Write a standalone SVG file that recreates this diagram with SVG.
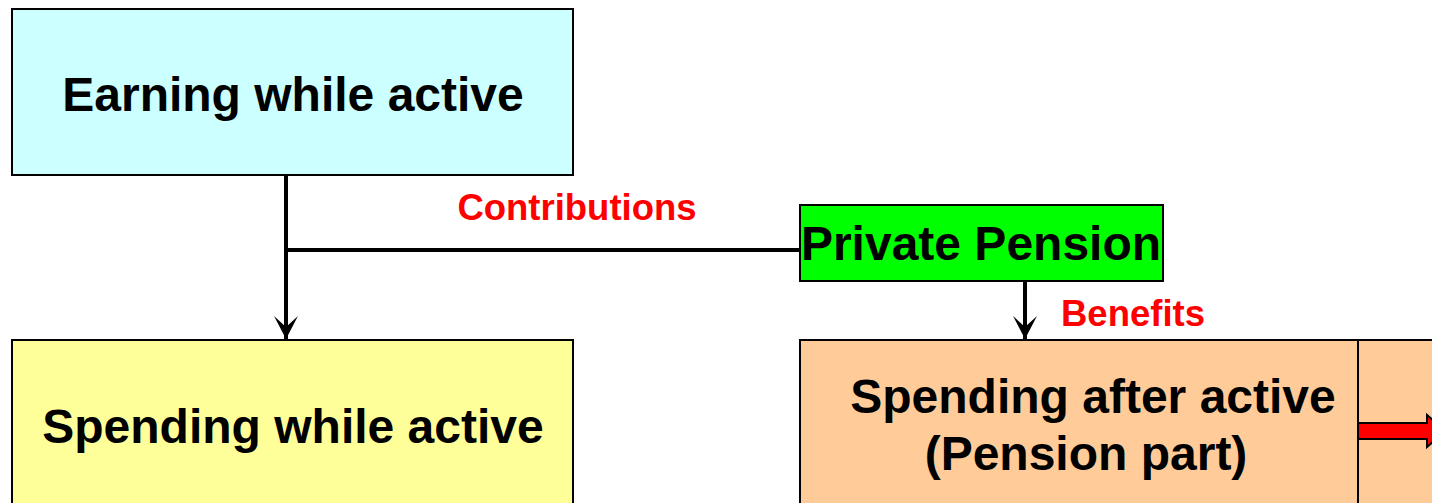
<svg xmlns="http://www.w3.org/2000/svg" width="1432" height="503" viewBox="0 0 1432 503">
  <style>
    .box { stroke: #000; stroke-width: 2; }
    .big { font-family: "Liberation Sans", Arial, sans-serif; font-weight: bold; font-size: 48px; fill: #000; }
    .lbl { font-family: "Liberation Sans", Arial, sans-serif; font-weight: bold; font-size: 36.5px; fill: #FF0000; }
    .wire { fill: none; stroke: #000; stroke-width: 4; }
  </style>
  <defs>
    <!-- barbed arrowhead, drawn pointing along +x -->
    <marker id="head" viewBox="0 0 26 26" refX="24" refY="13" markerWidth="26" markerHeight="26" markerUnits="userSpaceOnUse" orient="auto">
      <path d="M24,13 L1,1 L12,13 L1,25 Z" fill="#000"/>
    </marker>
  </defs>

  <g id="earning">
    <rect class="box" x="12" y="9" width="561" height="166" fill="#CCFFFF"/>
    <text class="big" x="293" y="111" text-anchor="middle">Earning while active</text>
  </g>

  <g id="private-pension">
    <rect class="box" x="800" y="205" width="363" height="76" fill="#00FF00"/>
    <text class="big" x="981" y="260" text-anchor="middle">Private Pension</text>
  </g>

  <g id="spending-active">
    <rect class="box" x="12" y="340" width="561" height="175" fill="#FFFF99"/>
    <text class="big" x="293" y="443" text-anchor="middle">Spending while active</text>
  </g>

  <g id="spending-after">
    <rect class="box" x="800" y="340" width="650" height="175" fill="#FFCC99"/>
    <line x1="1358" y1="340" x2="1358" y2="503" stroke="#000" stroke-width="2"/>
    <text class="big" x="1093" y="413" text-anchor="middle">Spending after active</text>
    <text class="big" x="1086" y="470" text-anchor="middle">(Pension part)</text>
    <path d="M1358,423 L1427,423 L1427,415 L1445,431 L1427,447 L1427,439 L1358,439 Z" fill="#FF0000" stroke="#000" stroke-width="2"/>
  </g>

  <g id="connectors">
    <line class="wire" x1="286" y1="175" x2="286" y2="339" marker-end="url(#head)"/>
    <line class="wire" x1="286" y1="250" x2="800" y2="250"/>
    <line class="wire" x1="1025" y1="281" x2="1025" y2="339" marker-end="url(#head)"/>
    <text class="lbl" x="577" y="220" text-anchor="middle">Contributions</text>
    <text class="lbl" x="1133" y="326" text-anchor="middle">Benefits</text>
  </g>
</svg>
